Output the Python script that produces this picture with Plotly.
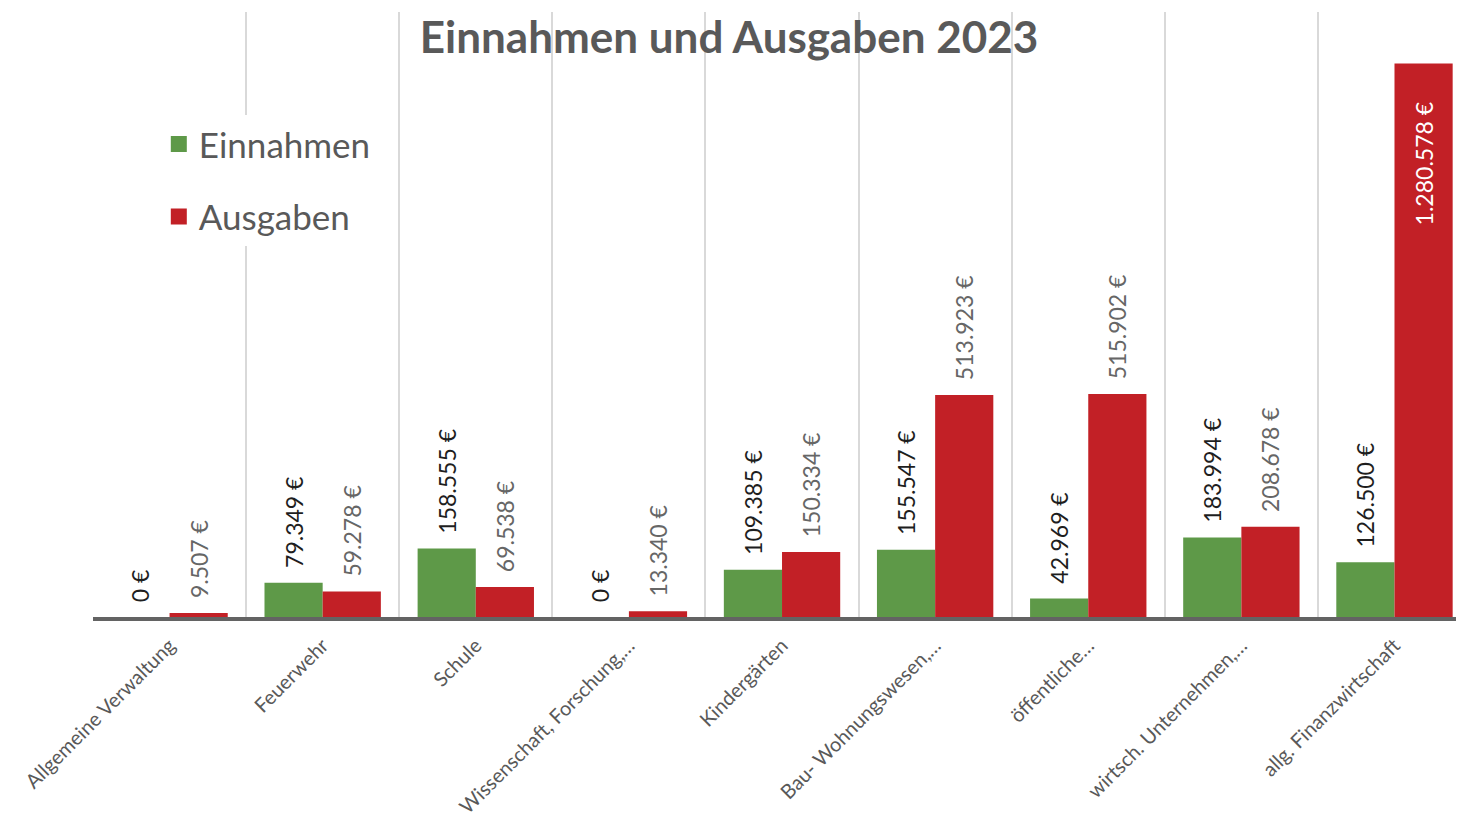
import plotly.graph_objects as go

categories = [
    "Allgemeine Verwaltung",
    "Feuerwehr",
    "Schule",
    "Wissenschaft, Forschung,…",
    "Kindergärten",
    "Bau- Wohnungswesen,…",
    "öffentliche…",
    "wirtsch. Unternehmen,…",
    "allg. Finanzwirtschaft",
]
einnahmen = [0, 79349, 158555, 0, 109385, 155547, 42969, 183994, 126500]
ausgaben = [9507, 59278, 69538, 13340, 150334, 513923, 515902, 208678, 1280578]

GREEN = "#5E9948"
RED = "#C22026"
GREY = "#595959"
FONT = "Lato"
NB = "\u00a0"

# page has an 8px body margin, so figure is sized/offset accordingly
W, H = 1456, 815


def fmt(v):
    return f"{v:,}".replace(",", ".") + " €"


def labels(vals, inside_threshold=1_000_000):
    out, pos = [], []
    for v in vals:
        if v > inside_threshold:
            out.append(fmt(v) + NB * 6)
            pos.append("inside")
        else:
            out.append(NB * 2 + fmt(v))
            pos.append("outside")
    return out, pos


t_e, p_e = labels(einnahmen)
t_a, p_a = labels(ausgaben)

fig = go.Figure()
fig.add_trace(go.Bar(
    x=categories, y=einnahmen, name="Einnahmen", marker_color=GREEN,
    marker_line_width=0, text=t_e, textposition=p_e, textangle=-90,
    outsidetextfont=dict(family=FONT, size=23, color="#1e1e1e"),
    insidetextfont=dict(family=FONT, size=23, color="white"),
    insidetextanchor="end", constraintext="none", cliponaxis=False,
    showlegend=False, hoverinfo="skip",
))
fig.add_trace(go.Bar(
    x=categories, y=ausgaben, name="Ausgaben", marker_color=RED,
    marker_line_width=0, text=t_a, textposition=p_a, textangle=-90,
    outsidetextfont=dict(family=FONT, size=23, color="#666666"),
    insidetextfont=dict(family=FONT, size=23, color="white"),
    insidetextanchor="end", constraintext="none", cliponaxis=False,
    showlegend=False, hoverinfo="skip",
))
# legend entries
for name, col in [("Einnahmen", GREEN), ("Ausgaben", RED)]:
    fig.add_trace(go.Scatter(
        x=[None], y=[None], mode="markers", name=name, legendgroup=name,
        marker=dict(symbol="square", size=16, color=col), hoverinfo="skip",
    ))

fig.update_layout(
    width=W, height=H,
    margin=dict(l=85, r=0, t=4, b=206, autoexpand=False),
    paper_bgcolor="white", plot_bgcolor="white",
    font=dict(family=FONT, color=GREY),
    barmode="group", bargap=0.24, bargroupgap=0,
    separators=",.",
    title=dict(
        text="<b>Einnahmen und Ausgaben 2023</b>",
        font=dict(family=FONT, size=44, color=GREY),
        xref="container", yref="container", x=721 / W, y=1 - 30 / H,
        xanchor="center", yanchor="middle",
    ),
    legend=dict(
        x=0.048, y=0.83, xanchor="left", yanchor="top",
        bgcolor="white", font=dict(family=FONT, size=35, color=GREY),
        tracegroupgap=24, traceorder="grouped",
    ),
    xaxis=dict(
        type="category", tickson="boundaries", showgrid=True,
        gridcolor="#D9D9D9", gridwidth=1.5, automargin=False,
        showline=True, linecolor="#636363", linewidth=4,
        ticks="", tickangle=-45, ticklabelstandoff=5,
        tickfont=dict(family=FONT, size=20, color=GREY),
        range=[-0.5, 8.454],
    ),
    yaxis=dict(
        range=[0, 1_400_000], showgrid=False, showticklabels=False,
        zeroline=False, showline=False, automargin=False,
    ),
)

fig.write_html("out.html")
